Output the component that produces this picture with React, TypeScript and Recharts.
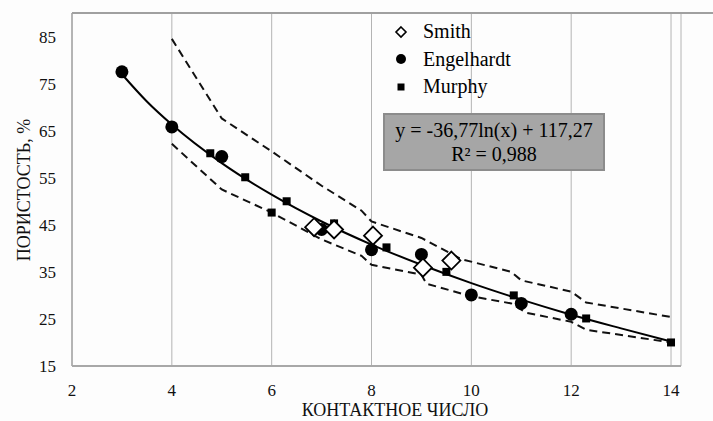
import { ComposedChart, Line, Scatter, XAxis, YAxis, CartesianGrid } from "recharts";

// contact number (x) vs porosity % (y)
const smithX = [6.85, 7.25, 8.03, 9.03, 9.6];
const smithY = [44.5, 44.0, 42.7, 35.9, 37.4];

const engelX = [3, 4, 5, 7, 8, 9, 10, 11, 12];
const engelY = [77.5, 65.8, 59.5, 44.0, 39.7, 38.7, 30.1, 28.3, 26.0];

const murphyX = [4.77, 5.47, 6, 6.3, 7.25, 8.3, 9.5, 10.85, 12.3, 14];
const murphyY = [60.2, 55.1, 47.6, 50.0, 45.3, 40.2, 35.0, 30.0, 25.1, 20.0];

// log trend line
const trendX = [3, 3.5, 4, 5, 6, 7, 8, 9, 10, 11, 12, 13, 14];
const trendY = [77.0, 71.2, 66.3, 58.1, 51.4, 45.7, 40.8, 36.5, 32.6, 29.1, 25.9, 23.0, 20.2];

// dashed envelopes
const upperX = [4, 5, 6, 7, 7.8, 8, 9, 9.8, 10.8, 11, 12, 12.3, 14];
const upperY = [84.5, 67.6, 60.6, 53.3, 48.0, 45.7, 42.2, 37.7, 35.0, 33.2, 30.8, 28.5, 25.4];

const lowerX = [4, 5, 6, 7, 7.8, 8, 9, 9.1, 10, 10.8, 11.1, 12, 12.3, 14];
const lowerY = [62.2, 52.5, 47.6, 41.9, 38.4, 36.5, 34.4, 32.5, 29.8, 28.3, 26.3, 24.4, 22.7, 20.0];

const xTicks = [2, 4, 6, 8, 10, 12, 14];
const yTicks = [15, 25, 35, 45, 55, 65, 75, 85];

const legendNames = ["Smith", "Engelhardt", "Murphy"];

const zip = (xs: number[], ys: number[]) => xs.map((x, i) => ({ x, y: ys[i] }));

const FONT = "'Liberation Serif', 'DejaVu Serif', serif";

const Diamond = (p: any) => (
  <path
    d={`M${p.cx},${p.cy - 9} L${p.cx + 9},${p.cy} L${p.cx},${p.cy + 9} L${p.cx - 9},${p.cy} Z`}
    fill="#fff"
    stroke="#000"
    strokeWidth={1.8}
  />
);
const Dot = (p: any) => <circle cx={p.cx} cy={p.cy} r={6.5} fill="#000" />;
const Sq = (p: any) => <rect x={p.cx - 4} y={p.cy - 4} width={8} height={8} fill="#000" />;

function LegendBox() {
  const syms = [
    <path key="d" d="M7,2 L12,7 L7,12 L2,7 Z" fill="#fff" stroke="#000" strokeWidth={1.6} />,
    <circle key="c" cx={7} cy={7} r={5} fill="#000" />,
    <rect key="s" x={3.5} y={3.5} width={7} height={7} fill="#000" />,
  ];
  return (
    <div style={{ position: "absolute", left: 394, top: 18, fontFamily: FONT, fontSize: 20, color: "#000" }}>
      {legendNames.map((n, i) => (
        <div key={n} style={{ display: "flex", alignItems: "center", height: 27.5 }}>
          <svg width={14} height={14} style={{ marginRight: 15 }}>{syms[i]}</svg>
          <span>{n}</span>
        </div>
      ))}
    </div>
  );
}

export default function App() {
  return (
    <div style={{ position: "absolute", left: 0, top: 0, width: 713, height: 421, background: "#fdfdfd" }}>
      <ComposedChart width={713} height={421} margin={{ top: 13, right: 32, left: 0, bottom: 0 }}>
        <CartesianGrid horizontal={false} stroke="#b4b4b4" strokeWidth={1} />
        <XAxis
          type="number"
          dataKey="x"
          domain={[2, 14.2]}
          ticks={xTicks}
          allowDataOverflow
          height={55}
          tickLine={false}
          tickSize={6}
          tickMargin={12}
          axisLine={{ stroke: "#a8a8a8", strokeWidth: 2 }}
          tick={{ fill: "#111", fontSize: 17, fontFamily: FONT }}
          label={{
            content: () => (
              <text x={395} y={416} textAnchor="middle" fontSize={18} fontFamily={FONT} fill="#111">
                КОНТАКТНОЕ ЧИСЛО
              </text>
            ),
          }}
        />
        <YAxis
          type="number"
          dataKey="y"
          domain={[15, 90]}
          ticks={yTicks}
          allowDataOverflow
          width={72}
          tickLine={false}
          tickSize={6}
          tickMargin={10}
          axisLine={{ stroke: "#a8a8a8", strokeWidth: 1.5 }}
          tick={{ fill: "#111", fontSize: 17, fontFamily: FONT }}
          label={{
            content: () => (
              <text
                x={30}
                y={190}
                transform="rotate(-90, 30, 190)"
                textAnchor="middle"
                fontSize={18}
                fontFamily={FONT}
                fill="#111"
              >
                ПОРИСТОСТЬ, %
              </text>
            ),
          }}
        />
        <Line data={zip(upperX, upperY)} dataKey="y" type="linear" stroke="#111" strokeWidth={2} strokeDasharray="8 5" dot={false} isAnimationActive={false} legendType="none" />
        <Line data={zip(lowerX, lowerY)} dataKey="y" type="linear" stroke="#111" strokeWidth={2} strokeDasharray="8 5" dot={false} isAnimationActive={false} legendType="none" />
        <Line data={zip(trendX, trendY)} dataKey="y" type="monotone" stroke="#000" strokeWidth={2} dot={false} isAnimationActive={false} legendType="none" />
        <Scatter name="Murphy" data={zip(murphyX, murphyY)} dataKey="y" shape={Sq} isAnimationActive={false} />
        <Scatter name="Engelhardt" data={zip(engelX, engelY)} dataKey="y" shape={Dot} isAnimationActive={false} />
        <Scatter name="Smith" data={zip(smithX, smithY)} dataKey="y" shape={Diamond} isAnimationActive={false} />
      </ComposedChart>
      {/* top frame line */}
      <div style={{ position: "absolute", left: 72, top: 12, width: 641, height: 0, borderTop: "2px solid #a0a0a0" }} />
      <LegendBox />
      {/* trend equation box */}
      <div
        style={{
          position: "absolute",
          left: 383,
          top: 113,
          width: 218,
          height: 51,
          background: "#a6a6a6",
          border: "2px solid #8c8c8c",
          fontFamily: FONT,
          fontSize: 20,
          lineHeight: "24px",
          color: "#000",
          textAlign: "center",
          paddingTop: 3,
          boxSizing: "content-box",
        }}
      >
        <div style={{ whiteSpace: "nowrap" }}>y = -36,77ln(x) + 117,27</div>
        <div>R² = 0,988</div>
      </div>
    </div>
  );
}
